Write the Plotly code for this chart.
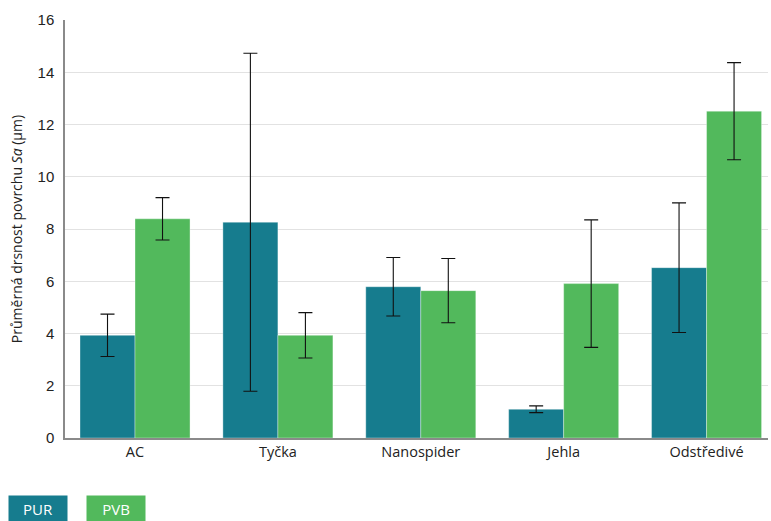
import plotly.graph_objects as go

categories = ["AC", "Tyčka", "Nanospider", "Jehla", "Odstředivé"]
pur_mean = [3.93, 8.26, 5.79, 1.10, 6.52]
pur_err = [0.81, 6.47, 1.12, 0.13, 2.48]
pvb_mean = [8.39, 3.93, 5.64, 5.91, 12.51]
pvb_err = [0.81, 0.87, 1.23, 2.44, 1.86]
y_ticks = [0, 2, 4, 6, 8, 10, 12, 14, 16]

PUR_COLOR = "#167c8e"
PVB_COLOR = "#52b95c"
TEXT_FONT = "Open Sans, sans-serif"
NUM_FONT = "Liberation Sans, Arial, sans-serif"

fig = go.Figure()
for name, vals, errs, color in [
    ("PUR", pur_mean, pur_err, PUR_COLOR),
    ("PVB", pvb_mean, pvb_err, PVB_COLOR),
]:
    fig.add_trace(go.Bar(
        name=name, x=categories, y=vals,
        marker=dict(color=color, line=dict(color="rgba(255,255,255,0.35)", width=1)),
        error_y=dict(type="data", array=errs, visible=True,
                     color="#111111", thickness=1.1, width=7),
    ))

fig.update_layout(
    width=771, height=521,
    margin=dict(l=65, r=3, t=20, b=83),
    paper_bgcolor="white", plot_bgcolor="white",
    barmode="group", bargap=0.23, bargroupgap=0,
    showlegend=False,
    font=dict(family=TEXT_FONT, size=14, color="#222222"),
    xaxis=dict(
        range=[-0.49, 4.43],
        showline=True, linecolor="#8a8a8a", linewidth=1.5,
        ticks="", tickfont=dict(family=TEXT_FONT, size=14.5, color="#222222"),
        showgrid=False,
    ),
    yaxis=dict(
        range=[0, 16], tickvals=y_ticks,
        showline=True, linecolor="#8a8a8a", linewidth=1.5,
        gridcolor="#e2e2e2", gridwidth=1,
        ticks="", ticklabelstandoff=6,
        tickfont=dict(family=NUM_FONT, size=15, color="#222222"),
        zeroline=False,
        title=dict(text="Průměrná drsnost povrchu <i>Sa</i> (µm)",
                   font=dict(family=TEXT_FONT, size=14, color="#222222"),
                   standoff=12),
    ),
)

# colour-key boxes below the plot
for label, color, xpos in [("PUR", PUR_COLOR, 8), ("PVB", PVB_COLOR, 86)]:
    fig.add_annotation(
        text=label, xref="paper", yref="paper",
        x=(xpos - 65) / 703, y=(521 - 495 - 83) / 418,
        xanchor="left", yanchor="top", showarrow=False,
        bgcolor=color, width=50, height=17, borderpad=4,
        font=dict(family=TEXT_FONT, size=15, color="white"),
    )

fig.write_html("out.html")
